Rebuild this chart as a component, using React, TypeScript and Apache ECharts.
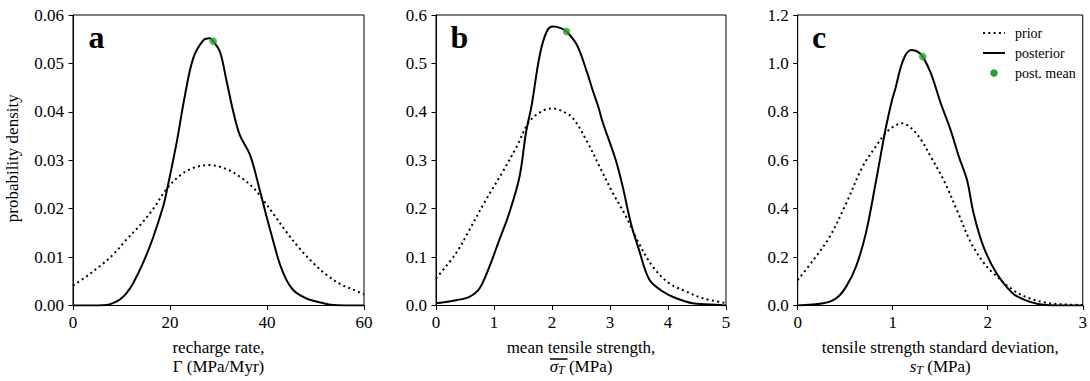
import React, { useEffect, useRef } from "react";
import * as echarts from "echarts";

// ---- data ----
const aPriorX = [0, 2.75, 5.5, 8.25, 11, 13.75, 16.5, 19.25, 22, 24.75, 28.2, 31.6, 34.4, 37.1, 39.2, 41.25, 44, 46.7, 49.5, 52.2, 55, 57.7, 60];
const aPriorY = [0.0041, 0.006, 0.0081, 0.0105, 0.0136, 0.0165, 0.0199, 0.024, 0.0268, 0.0284, 0.029, 0.0282, 0.0266, 0.0244, 0.0218, 0.019, 0.0152, 0.0118, 0.0088, 0.0064, 0.0045, 0.0033, 0.0023];
const aPostX = [0, 5, 6.9, 8.25, 9.6, 11, 12.4, 14.4, 16.5, 18.6, 19.3, 21.4, 23.1, 24.8, 26.9, 28.2, 28.9, 30.3, 31.7, 33.05, 34.4, 36.5, 38.6, 39.9, 41.2, 42.6, 44, 45.4, 46.7, 48.8, 51.5, 53.6, 56, 60];
const aPostY = [0, 0, 0.0001, 0.0005, 0.0012, 0.0025, 0.0046, 0.0087, 0.014, 0.0205, 0.0235, 0.0338, 0.0435, 0.0511, 0.0548, 0.0552, 0.0546, 0.0524, 0.0462, 0.04, 0.0352, 0.0311, 0.0235, 0.0184, 0.0136, 0.0087, 0.0053, 0.0032, 0.0022, 0.0012, 0.0005, 0.0001, 0, 0];
const aMean = [28.9, 0.0546];

const bPriorX = [0, 0.345, 0.575, 0.86, 1.15, 1.39, 1.61, 1.84, 2.01, 2.2, 2.36, 2.59, 2.82, 3.05, 3.28, 3.5, 3.74, 4.02, 4.31, 4.6, 5];
const bPriorY = [0.056, 0.108, 0.156, 0.218, 0.276, 0.328, 0.38, 0.402, 0.407, 0.4, 0.387, 0.342, 0.287, 0.232, 0.183, 0.128, 0.08, 0.046, 0.029, 0.015, 0.005];
const bPostX = [0, 0.345, 0.575, 0.75, 0.92, 1.09, 1.26, 1.44, 1.55, 1.65, 1.79, 1.91, 2.02, 2.15, 2.25, 2.43, 2.6, 2.7, 2.8, 2.87, 3.1, 3.22, 3.36, 3.5, 3.68, 3.91, 4.14, 4.43, 4.9, 5];
const bPostY = [0.0045, 0.011, 0.018, 0.035, 0.08, 0.135, 0.19, 0.266, 0.356, 0.414, 0.518, 0.566, 0.576, 0.573, 0.566, 0.538, 0.483, 0.445, 0.41, 0.38, 0.3, 0.245, 0.17, 0.115, 0.053, 0.029, 0.015, 0.0045, 0.001, 0];
const bMean = [2.25, 0.566];

const cPriorX = [0, 0.165, 0.337, 0.51, 0.682, 0.82, 0.923, 1.0, 1.096, 1.196, 1.3, 1.4, 1.54, 1.68, 1.82, 1.96, 2.06, 2.265, 2.437, 2.61, 2.78, 3.0];
const cPriorY = [0.105, 0.188, 0.284, 0.422, 0.573, 0.656, 0.711, 0.737, 0.753, 0.732, 0.684, 0.615, 0.515, 0.39, 0.262, 0.175, 0.133, 0.064, 0.03, 0.012, 0.005, 0.002];
const cPostX = [0, 0.269, 0.406, 0.51, 0.613, 0.717, 0.82, 0.923, 0.993, 1.024, 1.11, 1.196, 1.265, 1.316, 1.402, 1.506, 1.609, 1.696, 1.782, 1.851, 1.955, 2.093, 2.265, 2.437, 2.61, 2.8, 3.0];
const cPostY = [0, 0.009, 0.03, 0.078, 0.16, 0.298, 0.505, 0.725, 0.849, 0.89, 1.014, 1.055, 1.048, 1.028, 0.959, 0.835, 0.725, 0.615, 0.518, 0.381, 0.243, 0.133, 0.05, 0.016, 0.002, 0, 0];
const cMean = [1.316, 1.028];

const xRanges = [[0, 60, 20], [0, 5, 1], [0, 3, 1]];
const yRanges = [[0, 0.06, 0.01, 2], [0, 0.6, 0.1, 1], [0, 1.2, 0.2, 1]];
const xNames = [
  "recharge rate,\nΓ (MPa/Myr)",
  "mean tensile strength,\n{i|σ}{s|T} (MPa)",
  "tensile strength standard deviation,\n{i|s}{s|T} (MPa)",
];
const yName = "probability density";
const panelLetters = ["a", "b", "c"];
const legendNames = ["prior", "posterior", "post. mean"];

const FONT = "Liberation Serif, serif";
const GREEN = "#2ca02c";

const zip = (xs: number[], ys: number[]) => xs.map((x, i) => [x, ys[i]]);

export default function App() {
  const ref = useRef<HTMLDivElement>(null);
  useEffect(() => {
    if (!ref.current) return;
    const chart = echarts.init(ref.current, null, { renderer: "svg" });
    const grids = [
      { left: 73, top: 15, width: 291, height: 290.5 },
      { left: 436, top: 15, width: 290, height: 290.5 },
      { left: 797.7, top: 15, width: 290, height: 290.5 },
    ].map((g) => ({ ...g, show: true, borderColor: "#000", borderWidth: 1, backgroundColor: "transparent" }));

    const rich = {
      i: { fontFamily: FONT, fontSize: 17, fontStyle: "italic", color: "#000", lineHeight: 19 },
      s: { fontFamily: FONT, fontSize: 12, fontStyle: "italic", color: "#000", lineHeight: 8, verticalAlign: "bottom" },
    };

    const xAxis = xRanges.map((r, i) => ({
      type: "value",
      gridIndex: i,
      min: r[0],
      max: r[1],
      interval: r[2],
      axisLine: { show: true, lineStyle: { color: "#000", width: 1 } },
      axisTick: { show: true, length: 4.5, lineStyle: { color: "#000", width: 1 } },
      axisLabel: { color: "#000", fontFamily: FONT, fontSize: 17, margin: 8 },
      splitLine: { show: false },
      name: xNames[i],
      nameLocation: "middle",
      nameGap: 32,
      nameTextStyle: { color: "#000", fontFamily: FONT, fontSize: 17, lineHeight: 19, rich },
    }));

    const yAxis = yRanges.map((r, i) => ({
      type: "value",
      gridIndex: i,
      min: r[0],
      max: r[1],
      interval: r[2],
      axisLine: { show: true, lineStyle: { color: "#000", width: 1 } },
      axisTick: { show: true, length: 4.5, lineStyle: { color: "#000", width: 1 } },
      axisLabel: {
        color: "#000",
        fontFamily: FONT,
        fontSize: 17,
        margin: 9,
        formatter: (v: number) => v.toFixed(r[3]),
      },
      splitLine: { show: false },
      name: i === 0 ? yName : "",
      nameLocation: "middle",
      nameGap: 52,
      nameRotate: 90,
      nameTextStyle: { color: "#000", fontFamily: FONT, fontSize: 17, padding: [0, 0, 0, 4] },
    }));

    const panels = [
      [aPriorX, aPriorY, aPostX, aPostY, aMean],
      [bPriorX, bPriorY, bPostX, bPostY, bMean],
      [cPriorX, cPriorY, cPostX, cPostY, cMean],
    ] as any[];

    const series: any[] = [];
    panels.forEach((p, i) => {
      series.push({
        name: legendNames[0],
        type: "line",
        xAxisIndex: i,
        yAxisIndex: i,
        data: zip(p[0], p[1]),
        showSymbol: false,
        smooth: 0.35,
        lineStyle: { color: "#000", width: 2, type: [2, 3.3] },
        z: 2,
      });
      series.push({
        name: legendNames[1],
        type: "line",
        xAxisIndex: i,
        yAxisIndex: i,
        data: zip(p[2], p[3]),
        showSymbol: false,
        smooth: 0.35,
        lineStyle: { color: "#000", width: 2 },
        z: 3,
      });
      series.push({
        name: legendNames[2],
        type: "scatter",
        xAxisIndex: i,
        yAxisIndex: i,
        data: [p[4]],
        symbolSize: 7.5,
        itemStyle: { color: GREEN },
        z: 4,
      });
    });

    const letterX = [88.5, 450.5, 812];
    const graphic: any[] = panelLetters.map((t, i) => ({
      type: "text",
      x: letterX[i],
      y: 37,
      style: { text: t, fontFamily: FONT, fontWeight: "bold", fontSize: 32, fill: "#000", verticalAlign: "middle", align: "left" },
      z: 10,
    }));
    // legend
    graphic.push(
      { type: "line", shape: { x1: 983, y1: 33, x2: 1005, y2: 33 }, style: { stroke: "#000", lineWidth: 2, lineDash: [2, 3.3] }, z: 10 },
      { type: "line", shape: { x1: 983, y1: 53, x2: 1005, y2: 53 }, style: { stroke: "#000", lineWidth: 2 }, z: 10 },
      { type: "circle", shape: { cx: 994, cy: 73, r: 3.8 }, style: { fill: GREEN }, z: 10 }
    );
    legendNames.forEach((t, k) => {
      graphic.push({
        type: "text",
        x: 1015,
        y: 33 + 20 * k,
        style: { text: t, fontFamily: FONT, fontSize: 14, fill: "#000", verticalAlign: "middle", align: "left" },
        z: 10,
      });
    });
    // overline above sigma_T
    graphic.push({
      type: "line",
      shape: { x1: 550, y1: 359, x2: 567.5, y2: 359 },
      style: { stroke: "#000", lineWidth: 1.5 },
      z: 10,
    });

    chart.setOption({
      animation: false,
      backgroundColor: "#fff",
      grid: grids,
      xAxis,
      yAxis,
      series,
      graphic,
    });
    return () => chart.dispose();
  }, []);
  return <div ref={ref} style={{ position: "fixed", left: 0, top: 0, width: 1090, height: 381 }} />;
}
